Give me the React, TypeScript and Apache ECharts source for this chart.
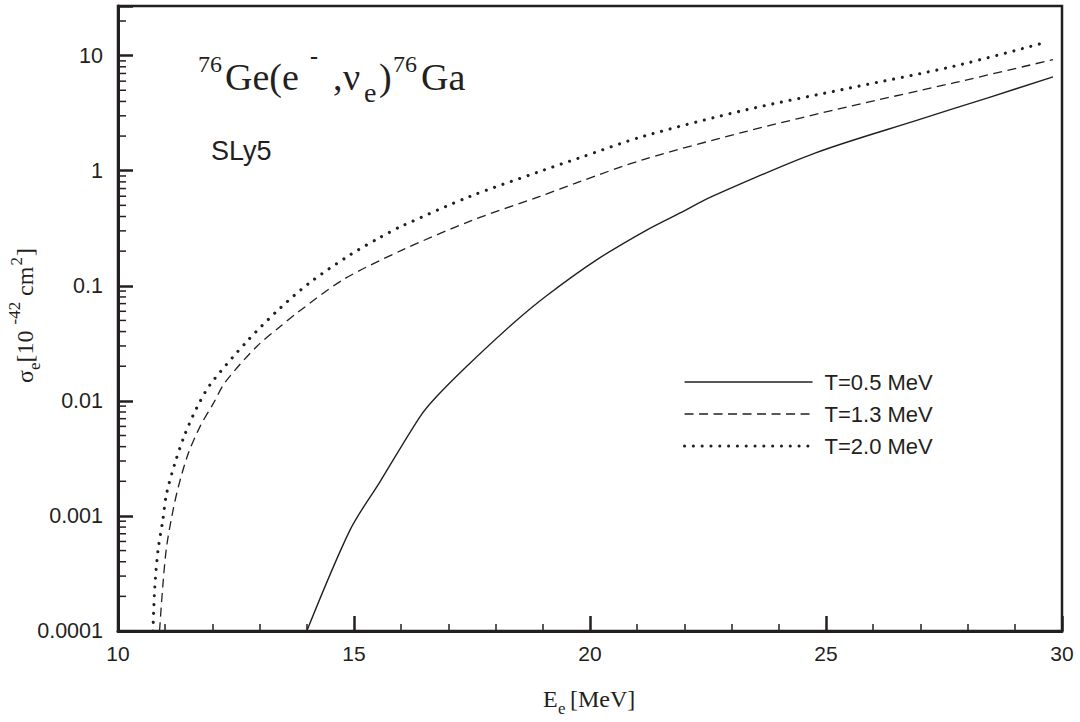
import React, { useEffect, useRef } from 'react';
import * as echarts from 'echarts';

// ---- data ----
const energyT05 = [14.0, 14.92, 15.55, 16.4, 16.75, 17.39, 18.38, 19.08, 20.14, 21.2, 21.91, 22.59, 24.78, 26.97, 28.43, 29.81];
const sigmaT05 = [1.0e-4, 7.6e-4, 1.98e-3, 7.3e-3, 1.09e-2, 2.0e-2, 4.75e-2, 8.2e-2, 0.168, 0.305, 0.43, 0.598, 1.43, 2.78, 4.3, 6.53];

const energyT13 = [10.88, 10.96, 11.03, 11.14, 11.28, 11.49, 11.74, 12.02, 12.27, 12.94, 13.43, 13.79, 14.77, 16.04, 17.5, 18.94, 19.77, 21.13, 23.32, 25.51, 27.7, 29.81];
const sigmaT13 = [1.0e-4, 2.8e-4, 5.4e-4, 9.9e-4, 1.8e-3, 3.5e-3, 6.0e-3, 9.5e-3, 0.0145, 0.0297, 0.044, 0.058, 0.113, 0.206, 0.37, 0.598, 0.8, 1.25, 2.2, 3.63, 5.79, 9.23];

const energyT20 = [10.74, 10.78, 10.85, 10.95, 11.03, 11.21, 11.4, 11.65, 11.95, 12.73, 13.4, 14.07, 14.92, 15.55, 15.97, 17.46, 18.94, 19.77, 21.13, 23.32, 25.51, 27.7, 29.67];
const sigmaT20 = [1.0e-4, 2.4e-4, 5.1e-4, 9.2e-4, 1.57e-3, 2.9e-3, 4.9e-3, 8.4e-3, 0.0138, 0.0328, 0.062, 0.107, 0.186, 0.263, 0.324, 0.598, 0.986, 1.29, 1.99, 3.39, 5.24, 8.07, 13.1];

const seriesNames = ['T=0.5 MeV', 'T=1.3 MeV', 'T=2.0 MeV'];
const yTickLabels = ['0.0001', '0.001', '0.01', '0.1', '1', '10'];
const yDecades = [0.0001, 0.001, 0.01, 0.1, 1, 10];
const yMinorMantissas = [2, 3, 4, 5, 6, 7, 8, 9];
const xRange = [10, 30];
const yRange = [0.0001, 27];

const INK = '#231f20';
const SERIF = '"Liberation Serif", "Times New Roman", serif';
const SANS = '"Liberation Sans", Arial, sans-serif';

function zip(xs: number[], ys: number[]) {
  return xs.map((x, i) => [x, ys[i]]);
}

let measureCtx: CanvasRenderingContext2D | null = null;
function measure(text: string, size: number, family: string) {
  if (!measureCtx) measureCtx = document.createElement('canvas').getContext('2d');
  if (!measureCtx) return text.length * size * 0.5;
  measureCtx.font = `${size}px ${family}`;
  return measureCtx.measureText(text).width;
}

// central-baseline offset (svg renderer uses dominant-baseline: central)
const serifMid = 0.3375;
const sansMid = 0.3465;

function txt(text: string, x: number, base: number, size: number, family: string, mid: number, weight = 'normal') {
  return {
    type: 'text',
    silent: true,
    style: {
      text,
      x,
      y: base - mid * size,
      fill: INK,
      fontSize: size,
      fontFamily: family,
      fontWeight: weight,
      align: 'left',
      verticalAlign: 'middle',
      textAlign: 'left',
      textVerticalAlign: 'middle',
    },
  };
}

export default function App() {
  const ref = useRef<HTMLDivElement>(null);

  useEffect(() => {
    if (!ref.current) return;
    const chart = echarts.init(ref.current, undefined, { renderer: 'svg' });

    const minorTicks: number[][] = [];
    yDecades.forEach((d) => {
      yMinorMantissas.forEach((m) => {
        const v = d * m;
        if (v < yRange[1]) minorTicks.push([xRange[0], v]);
      });
    });

    const title = [
      txt('76', 198, 72, 24, SERIF, serifMid),
      txt('Ge(e', 225, 90, 38, SERIF, serifMid),
      txt('-', 310, 64, 24, SERIF, serifMid, 'bold'),
      txt(',', 333, 90, 38, SERIF, serifMid),
      txt('ν', 343, 90, 38, SERIF, serifMid),
      txt('e', 364, 102, 28, SERIF, serifMid),
      txt(')', 379, 90, 38, SERIF, serifMid),
      txt('76', 393, 72, 24, SERIF, serifMid),
      txt('Ga', 421, 90, 38, SERIF, serifMid),
    ];

    const yPieces: { t: string; size: number; dv: number; gap: number }[] = [
      { t: 'σ', size: 24, dv: 0, gap: 0 },
      { t: 'e', size: 17, dv: 7, gap: 0 },
      { t: '[10', size: 24, dv: 0, gap: 6 },
      { t: '-42', size: 17, dv: -13, gap: 6 },
      { t: 'cm', size: 24, dv: 0, gap: 1 },
      { t: '2', size: 17, dv: -11, gap: 1 },
      { t: ']', size: 24, dv: 0, gap: 0 },
    ];
    let u = 0;
    const yChildren = yPieces.map((p) => {
      const el = {
        type: 'text',
        silent: true,
        style: {
          text: p.t,
          x: u,
          y: p.dv - serifMid * p.size,
          fill: INK,
          fontSize: p.size,
          fontFamily: SERIF,
          align: 'left',
          verticalAlign: 'middle',
          textAlign: 'left',
          textVerticalAlign: 'middle',
        },
      };
      u += measure(p.t, p.size, SERIF) + p.gap;
      return el;
    });

    const lineBase = {
      type: 'line',
      showSymbol: false,
      symbol: 'none',
      smooth: 0.3,
      silent: true,
      z: 3,
      color: INK,
    };

    const option: any = {
      animation: false,
      backgroundColor: '#ffffff',
      grid: {
        left: 118,
        right: 18,
        top: 6,
        bottom: 91,
        show: true,
        borderColor: INK,
        borderWidth: 2.5,
        backgroundColor: 'transparent',
      },
      legend: {
        data: seriesNames,
        orient: 'vertical',
        left: 678,
        top: 366,
        itemWidth: 128,
        itemHeight: 20,
        itemGap: 10,
        selectedMode: false,
        itemStyle: { opacity: 0, borderWidth: 0 },
        lineStyle: { width: 'inherit' },
        textStyle: {
          fontSize: 22,
          fontFamily: SANS,
          color: INK,
          padding: [0, 0, 0, 7],
        },
      },
      xAxis: {
        type: 'value',
        min: xRange[0],
        max: xRange[1],
        interval: 5,
        axisLine: { show: true, onZero: false, lineStyle: { color: INK, width: 3 } },
        axisTick: { show: true, inside: true, length: 15, lineStyle: { color: INK, width: 2.5 } },
        minorTick: { show: true, splitNumber: 5, length: 7, lineStyle: { color: INK, width: 1.5 } },
        splitLine: { show: false },
        axisLabel: { fontSize: 21, fontFamily: SANS, color: INK, margin: 12 },
      },
      yAxis: {
        type: 'log',
        logBase: 10,
        min: yRange[0],
        max: yRange[1],
        axisLine: { show: true, onZero: false, lineStyle: { color: INK, width: 3 } },
        axisTick: { show: true, inside: true, length: 15, lineStyle: { color: INK, width: 2.5 } },
        splitLine: { show: false },
        axisLabel: {
          fontSize: 21.5,
          fontFamily: SANS,
          color: INK,
          margin: 15,
          formatter: (v: number) => {
            const l = Math.log10(v);
            const r = Math.round(l);
            if (Math.abs(l - r) > 1e-6) return '';
            return yTickLabels[r + 4] ?? '';
          },
        },
      },
      series: [
        { ...lineBase, name: seriesNames[0], data: zip(energyT05, sigmaT05), lineStyle: { color: INK, width: 1.4, type: 'solid' } },
        { ...lineBase, name: seriesNames[1], data: zip(energyT13, sigmaT13), lineStyle: { color: INK, width: 1.3, type: [9, 5.5] } },
        { ...lineBase, name: seriesNames[2], data: zip(energyT20, sigmaT20), lineStyle: { color: INK, width: 3.1, type: [0.01, 8.8], cap: 'round' } },
        {
          type: 'custom',
          name: 'minorTicks',
          silent: true,
          clip: false,
          z: 4,
          data: minorTicks,
          encode: { x: 0, y: 1 },
          renderItem: (_params: any, api: any) => {
            const p = api.coord([api.value(0), api.value(1)]);
            return {
              type: 'line',
              shape: { x1: p[0], y1: p[1], x2: p[0] + 8, y2: p[1] },
              style: { stroke: INK, lineWidth: 1.5 },
            };
          },
        },
      ],
      graphic: [
        ...title,
        txt('SLy5', 211, 160, 27, SANS, sansMid),
        txt('E', 543, 707, 24, SERIF, serifMid),
        txt('e', 558, 714, 17, SERIF, serifMid),
        txt('[MeV]', 570, 707, 24, SERIF, serifMid),
        { type: 'group', x: 33, y: 383, rotation: Math.PI / 2, silent: true, children: yChildren },
      ],
    };

    chart.setOption(option);
    return () => {
      chart.dispose();
    };
  }, []);

  return (
    <div
      ref={ref}
      style={{ position: 'absolute', left: 0, top: 0, width: 1080, height: 722, background: '#fff' }}
    />
  );
}
